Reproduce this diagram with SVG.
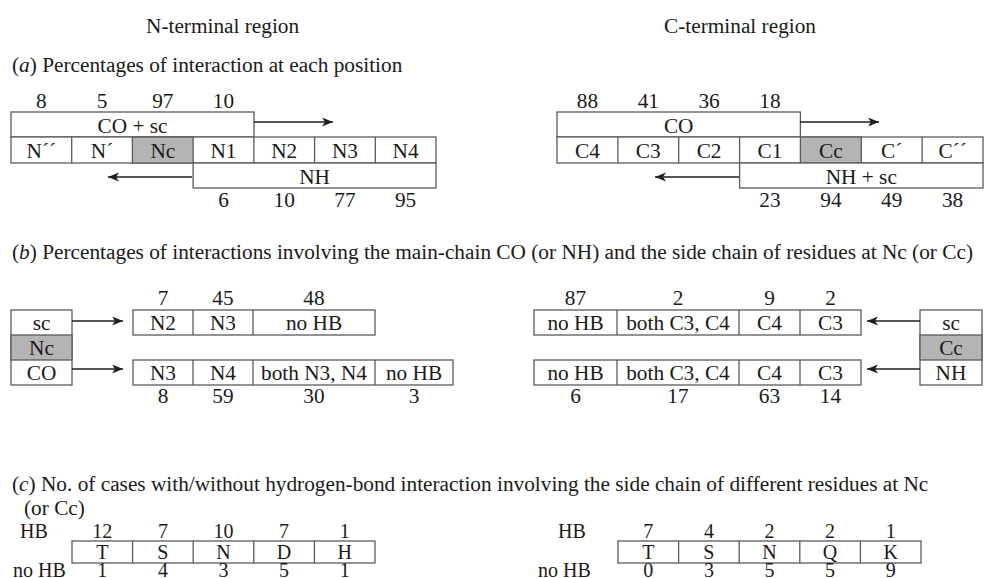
<svg xmlns="http://www.w3.org/2000/svg" width="984" height="578" viewBox="0 0 984 578">
  <style>
    text { font-family: "Liberation Serif", "Times New Roman", serif; font-size: 21.3px; fill: #1a1a1a; }
    .c { text-anchor: middle; }
    .sm { font-size: 20px; }
    .box { fill: #ffffff; stroke: #5a5a5a; stroke-width: 1.3; }
    .shade { fill: #b4b4b4; stroke: #5a5a5a; stroke-width: 1.3; }
    .div { stroke: #5a5a5a; stroke-width: 1.3; fill: none; }
    .arrow { stroke: #1e1e1e; stroke-width: 1.5; fill: none; marker-end: url(#head); }
  </style>
  <defs>
    <marker id="head" markerUnits="userSpaceOnUse" markerWidth="12" markerHeight="10" refX="11" refY="4.5" orient="auto">
      <path d="M0,0 L11,4.5 L0,9 L3,4.5 z" fill="#1e1e1e"/>
    </marker>
  </defs>

  <!-- column headings -->
  <g id="headings">
    <text x="146" y="33">N-terminal region</text>
    <text x="664" y="33">C-terminal region</text>
  </g>

  <!-- section titles -->
  <g id="titles">
    <text x="12" y="72">(<tspan font-style="italic">a</tspan>) Percentages of interaction at each position</text>
    <text x="12" y="259">(<tspan font-style="italic">b</tspan>) Percentages of interactions involving the main-chain CO (or NH) and the side chain of residues at Nc (or Cc)</text>
    <text x="12" y="491">(<tspan font-style="italic">c</tspan>) No. of cases with/without hydrogen-bond interaction involving the side chain of different residues at Nc</text>
    <text x="24" y="515">(or Cc)</text>
  </g>

  <!-- (a) N-terminal: CO + sc span -->
  <g id="a-n-co">
    <rect class="box" x="11" y="112" width="243" height="25"/>
    <text class="c" x="132.5" y="133">CO + sc</text>
    <text class="c" x="41.4" y="108">8</text>
    <text class="c" x="102.1" y="108">5</text>
    <text class="c" x="162.8" y="108">97</text>
    <text class="c" x="223.5" y="108">10</text>
  </g>
  <!-- (a) N-terminal: residue row -->
  <g id="a-n-residues">
    <rect class="box" x="11" y="137" width="425" height="26"/>
    <rect class="shade" x="132.4" y="137" width="60.7" height="26"/>
    <path class="div" d="M71.7,137V163 M314.6,137V163 M375.3,137V163 M253.9,137V163"/>
    <text class="c" x="41.4" y="158">N´´</text>
    <text class="c" x="102.1" y="158">N´</text>
    <text class="c" x="162.8" y="158">Nc</text>
    <text class="c" x="223.5" y="158">N1</text>
    <text class="c" x="284.2" y="158">N2</text>
    <text class="c" x="344.9" y="158">N3</text>
    <text class="c" x="405.6" y="158">N4</text>
  </g>
  <!-- (a) N-terminal: NH span -->
  <g id="a-n-nh">
    <rect class="box" x="193.1" y="163" width="242.9" height="25"/>
    <text class="c" x="314.6" y="184">NH</text>
    <text class="c" x="223.5" y="207">6</text>
    <text class="c" x="284.2" y="207">10</text>
    <text class="c" x="344.9" y="207">77</text>
    <text class="c" x="405.6" y="207">95</text>
  </g>

  <!-- (a) C-terminal: CO span -->
  <g id="a-c-co">
    <rect class="box" x="557" y="112" width="243.4" height="25"/>
    <text class="c" x="678.7" y="133">CO</text>
    <text class="c" x="587.4" y="108">88</text>
    <text class="c" x="648.3" y="108">41</text>
    <text class="c" x="709.1" y="108">36</text>
    <text class="c" x="770" y="108">18</text>
  </g>
  <!-- (a) C-terminal: residue row -->
  <g id="a-c-residues">
    <rect class="box" x="557" y="137" width="426" height="26"/>
    <rect class="shade" x="800.4" y="137" width="60.9" height="26"/>
    <path class="div" d="M617.9,137V163 M678.7,137V163 M739.6,137V163 M922.1,137V163"/>
    <text class="c" x="587.4" y="158">C4</text>
    <text class="c" x="648.3" y="158">C3</text>
    <text class="c" x="709.1" y="158">C2</text>
    <text class="c" x="770" y="158">C1</text>
    <text class="c" x="830.9" y="158">Cc</text>
    <text class="c" x="891.7" y="158">C´</text>
    <text class="c" x="952.6" y="158">C´´</text>
  </g>
  <!-- (a) C-terminal: NH + sc span -->
  <g id="a-c-nh">
    <rect class="box" x="739.6" y="163" width="243.4" height="25"/>
    <text class="c" x="861.3" y="184">NH + sc</text>
    <text class="c" x="770" y="207">23</text>
    <text class="c" x="830.9" y="207">94</text>
    <text class="c" x="891.7" y="207">49</text>
    <text class="c" x="952.6" y="207">38</text>
  </g>

  <!-- (b) N-terminal: Nc residue with sc / CO -->
  <g id="b-n-residue">
    <rect class="box" x="11" y="310" width="61" height="75"/>
    <rect class="shade" x="11" y="335" width="61" height="25"/>
    <text class="c" x="41.5" y="330">sc</text>
    <text class="c" x="41.5" y="355">Nc</text>
    <text class="c" x="41.5" y="380">CO</text>
  </g>
  <g id="b-n-sc-partners">
    <rect class="box" x="133" y="310" width="242" height="25"/>
    <path class="div" d="M193,310V335 M253,310V335"/>
    <text class="c" x="163" y="330">N2</text>
    <text class="c" x="223" y="330">N3</text>
    <text class="c" x="314" y="330">no HB</text>
    <text class="c" x="163" y="305">7</text>
    <text class="c" x="223" y="305">45</text>
    <text class="c" x="314" y="305">48</text>
  </g>
  <g id="b-n-co-partners">
    <rect class="box" x="133" y="360" width="320" height="25"/>
    <path class="div" d="M193,360V385 M253,360V385 M375,360V385"/>
    <text class="c" x="163" y="380">N3</text>
    <text class="c" x="223" y="380">N4</text>
    <text class="c" x="314" y="380">both N3, N4</text>
    <text class="c" x="414" y="380">no HB</text>
    <text class="c" x="163" y="403">8</text>
    <text class="c" x="223" y="403">59</text>
    <text class="c" x="314" y="403">30</text>
    <text class="c" x="414" y="403">3</text>
  </g>

  <!-- (b) C-terminal: Cc residue with sc / NH -->
  <g id="b-c-residue">
    <rect class="box" x="920" y="310" width="62" height="75"/>
    <rect class="shade" x="920" y="335" width="62" height="25"/>
    <text class="c" x="951" y="330">sc</text>
    <text class="c" x="951" y="355">Cc</text>
    <text class="c" x="951" y="380">NH</text>
  </g>
  <g id="b-c-sc-partners">
    <rect class="box" x="534" y="310" width="327" height="25"/>
    <path class="div" d="M617,310V335 M739,310V335 M800,310V335"/>
    <text class="c" x="575.5" y="330">no HB</text>
    <text class="c" x="678" y="330">both C3, C4</text>
    <text class="c" x="769.5" y="330">C4</text>
    <text class="c" x="830.5" y="330">C3</text>
    <text class="c" x="575.5" y="305">87</text>
    <text class="c" x="678" y="305">2</text>
    <text class="c" x="769.5" y="305">9</text>
    <text class="c" x="830.5" y="305">2</text>
  </g>
  <g id="b-c-nh-partners">
    <rect class="box" x="534" y="360" width="327" height="25"/>
    <path class="div" d="M617,360V385 M739,360V385 M800,360V385"/>
    <text class="c" x="575.5" y="380">no HB</text>
    <text class="c" x="678" y="380">both C3, C4</text>
    <text class="c" x="769.5" y="380">C4</text>
    <text class="c" x="830.5" y="380">C3</text>
    <text class="c" x="575.5" y="403">6</text>
    <text class="c" x="678" y="403">17</text>
    <text class="c" x="769.5" y="403">63</text>
    <text class="c" x="830.5" y="403">14</text>
  </g>

  <!-- (c) N-terminal residue counts -->
  <g id="c-n-counts" class="sm">
    <text class="sm" x="20" y="538">HB</text>
    <text class="sm" x="13" y="577">no HB</text>
    <rect class="box" x="72" y="541" width="303" height="22"/>
    <path class="div" d="M132.6,541V563 M193.2,541V563 M253.8,541V563 M314.4,541V563"/>
    <text class="c sm" x="102.3" y="559">T</text>
    <text class="c sm" x="162.9" y="559">S</text>
    <text class="c sm" x="223.5" y="559">N</text>
    <text class="c sm" x="284.1" y="559">D</text>
    <text class="c sm" x="344.7" y="559">H</text>
    <text class="c sm" x="102.3" y="538">12</text>
    <text class="c sm" x="162.9" y="538">7</text>
    <text class="c sm" x="223.5" y="538">10</text>
    <text class="c sm" x="284.1" y="538">7</text>
    <text class="c sm" x="344.7" y="538">1</text>
    <text class="c sm" x="102.3" y="577">1</text>
    <text class="c sm" x="162.9" y="577">4</text>
    <text class="c sm" x="223.5" y="577">3</text>
    <text class="c sm" x="284.1" y="577">5</text>
    <text class="c sm" x="344.7" y="577">1</text>
  </g>

  <!-- (c) C-terminal residue counts -->
  <g id="c-c-counts">
    <text class="sm" x="558" y="538">HB</text>
    <text class="sm" x="538" y="577">no HB</text>
    <rect class="box" x="618" y="541" width="303" height="22"/>
    <path class="div" d="M678.6,541V563 M739.2,541V563 M799.8,541V563 M860.4,541V563"/>
    <text class="c sm" x="648.3" y="559">T</text>
    <text class="c sm" x="708.9" y="559">S</text>
    <text class="c sm" x="769.5" y="559">N</text>
    <text class="c sm" x="830.1" y="559">Q</text>
    <text class="c sm" x="890.7" y="559">K</text>
    <text class="c sm" x="648.3" y="538">7</text>
    <text class="c sm" x="708.9" y="538">4</text>
    <text class="c sm" x="769.5" y="538">2</text>
    <text class="c sm" x="830.1" y="538">2</text>
    <text class="c sm" x="890.7" y="538">1</text>
    <text class="c sm" x="648.3" y="577">0</text>
    <text class="c sm" x="708.9" y="577">3</text>
    <text class="c sm" x="769.5" y="577">5</text>
    <text class="c sm" x="830.1" y="577">5</text>
    <text class="c sm" x="890.7" y="577">9</text>
  </g>

  <!-- direction arrows -->
  <g id="connectors">
    <line class="arrow" x1="254" y1="122" x2="333" y2="122"/>
    <line class="arrow" x1="192" y1="177" x2="108" y2="177"/>
    <line class="arrow" x1="800" y1="122" x2="879" y2="122"/>
    <line class="arrow" x1="739" y1="177" x2="655" y2="177"/>
    <line class="arrow" x1="72" y1="321" x2="123" y2="321"/>
    <line class="arrow" x1="72" y1="369" x2="123" y2="369"/>
    <line class="arrow" x1="920" y1="321" x2="867" y2="321"/>
    <line class="arrow" x1="920" y1="369" x2="867" y2="369"/>
  </g>
</svg>
